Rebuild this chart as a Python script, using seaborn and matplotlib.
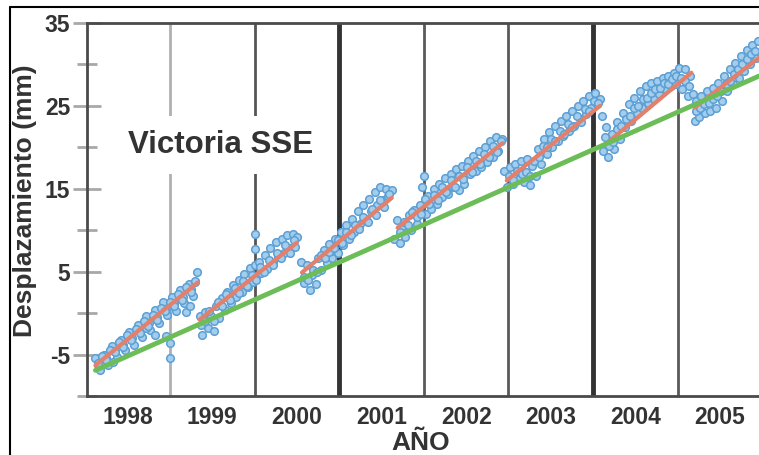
import numpy as np
import pandas as pd
import matplotlib
matplotlib.use("Agg")
import matplotlib.pyplot as plt
from matplotlib.lines import Line2D
import seaborn as sns

# ---------------- data ----------------
yr1 = [1998.12, 1998.17, 1998.22, 1998.27, 1998.32, 1998.37, 1998.42, 1998.47, 1998.52, 1998.57,
       1998.62, 1998.67, 1998.72, 1998.77, 1998.82, 1998.87, 1998.92, 1998.97, 1999.02, 1999.07,
       1999.12, 1999.17, 1999.22, 1999.27, 1999.32,
       1998.15, 1998.25, 1998.35, 1998.45, 1998.55, 1998.65, 1998.75, 1998.85, 1998.95, 1999.05,
       1999.15, 1999.25, 1998.33, 1998.72, 1998.82, 1998.95, 1999.0, 1999.0, 1999.19, 1999.24, 1999.30]
dp1 = [-5.4, -6.9, -5.0, -6.2, -4.0, -5.3, -3.2, -4.5, -2.3, -3.8,
       -1.4, -2.9, -0.3, -2.0, 0.4, -1.2, 1.3, -0.2, 1.9, 0.3,
       2.8, 1.2, 3.5, 2.1, 4.9,
       -6.3, -5.4, -4.6, -3.8, -3.0, -2.2, -1.2, -0.5, 0.5, 1.2,
       2.0, 2.9, -5.9, -1.8, -2.6, -2.8, -5.4, -3.6, 0.1, 0.9, 3.8]
yr1b = [1998.145, 1998.195, 1998.245, 1998.295, 1998.345, 1998.395, 1998.445, 1998.495,
        1998.545, 1998.595, 1998.645, 1998.695, 1998.745, 1998.795, 1998.845, 1998.895,
        1998.945, 1998.995, 1999.045, 1999.095, 1999.145, 1999.195, 1999.245, 1999.295]
dp1b = [-6.0, -5.2, -5.6, -4.4, -4.7, -3.5, -4.1, -2.7, -3.3, -1.9, -2.4, -1.0,
        -1.5, -0.2, -0.8, 0.6, 0.2, 1.4, 0.8, 2.3, 1.6, 3.1, 2.5, 3.9]

yr2 = [1999.35, 1999.38, 1999.42, 1999.45, 1999.48, 1999.52, 1999.55, 1999.58, 1999.62, 1999.65,
       1999.68, 1999.72, 1999.75, 1999.78, 1999.82, 1999.85, 1999.88, 1999.92, 1999.95, 1999.98,
       2000.0, 2000.0, 2000.0, 2000.02, 2000.05, 2000.08, 2000.12, 2000.15, 2000.18, 2000.22,
       2000.25, 2000.28, 2000.32, 2000.35, 2000.38, 2000.42, 2000.45, 2000.48, 2000.50]
dp2 = [-0.4, -2.6, 0.1, -1.8, -0.3, -2.2, 0.9, -0.6, 1.8, 0.4,
       2.6, 1.2, 3.4, 1.9, 4.0, 2.6, 4.7, 3.2, 5.5, 3.8,
       9.6, 7.7, 5.8, 4.4, 6.2, 4.8, 7.0, 5.3, 7.9, 6.0,
       8.6, 6.8, 9.0, 7.2, 9.4, 7.8, 9.6, 8.0, 9.2]
yr2b = [1999.365, 1999.415, 1999.465, 1999.515, 1999.565, 1999.615, 1999.665, 1999.715,
        1999.765, 1999.815, 1999.865, 1999.915, 1999.965, 2000.015, 2000.065, 2000.115,
        2000.165, 2000.215, 2000.265, 2000.315, 2000.365, 2000.415, 2000.465]
dp2b = [-1.4, -0.9, 0.3, -1.0, 1.4, 0.8, 2.3, 1.6, 3.0, 2.4, 3.9, 3.3,
        4.6, 4.0, 5.6, 5.0, 6.4, 5.8, 7.3, 6.6, 8.2, 7.2, 8.8]

yr3 = [2000.55, 2000.58, 2000.62, 2000.65, 2000.68, 2000.72, 2000.75, 2000.78, 2000.82, 2000.85,
       2000.88, 2000.92, 2000.95, 2000.98, 2001.02, 2001.05, 2001.08, 2001.12, 2001.15, 2001.18,
       2001.22, 2001.25, 2001.28, 2001.32, 2001.35, 2001.38, 2001.42, 2001.45, 2001.48, 2001.52,
       2001.55, 2001.58, 2001.62]
dp3 = [6.2, 3.6, 5.8, 2.8, 4.6, 3.5, 6.7, 5.2, 7.6, 6.0,
       8.3, 6.6, 8.9, 7.3, 9.8, 8.2, 10.6, 9.0, 11.4, 9.8,
       12.3, 10.7, 13.0, 11.4, 13.8, 12.3, 14.6, 13.1, 15.2, 13.7,
       15.0, 14.1, 14.8]
yr3b = [2000.585, 2000.635, 2000.685, 2000.735, 2000.785, 2000.835, 2000.885, 2000.935,
        2000.985, 2001.035, 2001.085, 2001.135, 2001.185, 2001.235, 2001.285, 2001.335,
        2001.385, 2001.435, 2001.485, 2001.535, 2001.585]
dp3b = [4.4, 4.0, 5.2, 5.0, 7.0, 6.6, 7.4, 7.8, 8.8, 8.4, 9.8, 9.4,
        10.6, 10.2, 11.6, 11.0, 12.6, 11.8, 13.6, 12.8, 14.4]

yr4 = [2001.65, 2001.68, 2001.72, 2001.75, 2001.78, 2001.82, 2001.85, 2001.88, 2001.92, 2001.95,
       2001.98, 2002.0, 2002.02, 2002.05, 2002.08, 2002.12, 2002.15, 2002.18, 2002.22, 2002.25,
       2002.28, 2002.32, 2002.35, 2002.38, 2002.42, 2002.45, 2002.48, 2002.52, 2002.55, 2002.58,
       2002.62, 2002.65, 2002.68, 2002.72, 2002.75, 2002.78, 2002.82, 2002.85, 2002.88, 2002.92]
dp4 = [9.0, 11.2, 8.4, 10.5, 9.2, 11.8, 10.0, 12.4, 10.8, 13.0,
       15.2, 16.6, 12.0, 14.1, 12.6, 15.0, 13.2, 15.6, 14.0, 16.3,
       14.4, 16.8, 15.2, 17.4, 14.9, 17.8, 15.6, 18.4, 16.8, 19.0,
       17.2, 19.6, 17.6, 20.0, 18.2, 20.8, 18.8, 21.3, 19.6, 21.0]
yr4b = [2001.715, 2001.765, 2001.815, 2001.865, 2001.915, 2001.965, 2002.015, 2002.065,
        2002.115, 2002.165, 2002.215, 2002.265, 2002.315, 2002.365, 2002.415, 2002.465,
        2002.515, 2002.565, 2002.615, 2002.665, 2002.715, 2002.765, 2002.815, 2002.865, 2002.915]
dp4b = [9.8, 11.0, 10.6, 12.2, 11.6, 12.0, 13.8, 13.2, 14.2, 13.6, 15.2, 14.6,
        16.0, 15.2, 16.6, 16.2, 17.6, 17.0, 18.4, 18.0, 19.2, 18.8, 20.2, 19.4, 20.8]

yr5 = [2002.95, 2002.98, 2003.02, 2003.05, 2003.08, 2003.12, 2003.15, 2003.18, 2003.22, 2003.25,
       2003.28, 2003.32, 2003.35, 2003.38, 2003.42, 2003.45, 2003.48, 2003.52, 2003.55, 2003.58,
       2003.62, 2003.65, 2003.68, 2003.72, 2003.75, 2003.78, 2003.82, 2003.85, 2003.88, 2003.92,
       2003.95, 2003.98, 2004.02, 2004.05, 2004.08]
dp5 = [17.2, 15.2, 17.6, 15.6, 18.0, 16.2, 18.4, 15.8, 18.6, 15.4,
       17.8, 16.5, 19.8, 18.0, 21.0, 19.2, 21.8, 20.0, 22.6, 20.8,
       23.2, 21.4, 23.8, 22.0, 24.4, 22.6, 25.0, 23.4, 25.6, 24.0,
       26.2, 24.8, 26.6, 25.2, 25.8]
yr5b = [2003.005, 2003.055, 2003.105, 2003.155, 2003.205, 2003.255, 2003.305, 2003.355,
        2003.405, 2003.455, 2003.505, 2003.555, 2003.605, 2003.655, 2003.705, 2003.755,
        2003.805, 2003.855, 2003.905, 2003.955, 2004.005, 2004.055]
dp5b = [16.6, 16.0, 17.2, 16.8, 17.0, 16.6, 18.4, 18.8, 20.2, 20.0, 21.0, 20.8,
        22.0, 21.6, 22.8, 22.4, 23.8, 23.0, 24.6, 24.4, 25.6, 25.4]

yr6 = [2004.10, 2004.12, 2004.15, 2004.18, 2004.22, 2004.25, 2004.28, 2004.32, 2004.35, 2004.38,
       2004.42, 2004.45, 2004.48, 2004.52, 2004.55, 2004.58, 2004.62, 2004.65, 2004.68, 2004.72,
       2004.75, 2004.78, 2004.82, 2004.85, 2004.88, 2004.92, 2004.95, 2004.98, 2005.02, 2005.05,
       2005.08, 2005.12, 2005.15]
dp6 = [23.8, 19.6, 22.4, 18.8, 21.6, 19.8, 23.0, 21.0, 24.2, 22.4,
       25.2, 23.2, 26.0, 24.2, 26.8, 24.8, 27.4, 25.4, 27.8, 25.8,
       28.0, 26.4, 28.4, 27.0, 28.6, 27.4, 29.0, 27.6, 29.6, 27.0,
       29.4, 26.2, 28.6]
yr6b = [2004.135, 2004.185, 2004.235, 2004.285, 2004.335, 2004.385, 2004.435, 2004.485,
        2004.535, 2004.585, 2004.635, 2004.685, 2004.735, 2004.785, 2004.835, 2004.885,
        2004.935, 2004.985, 2005.035, 2005.085, 2005.135]
dp6b = [21.2, 20.2, 20.6, 22.2, 22.6, 23.4, 23.8, 24.8, 25.0, 25.8, 26.0, 26.6,
        27.0, 27.2, 27.8, 27.6, 28.2, 28.6, 28.4, 28.0, 27.4]

yr7 = [2005.18, 2005.20, 2005.22, 2005.25, 2005.28, 2005.32, 2005.35, 2005.38, 2005.42, 2005.45,
       2005.48, 2005.52, 2005.55, 2005.58, 2005.62, 2005.65, 2005.68, 2005.72, 2005.75, 2005.78,
       2005.82, 2005.85, 2005.88, 2005.92, 2005.95]
dp7 = [26.4, 23.2, 25.6, 23.6, 26.2, 24.2, 26.8, 24.4, 27.2, 24.8,
       27.8, 25.6, 28.6, 26.8, 29.4, 27.6, 30.2, 28.4, 31.0, 29.2,
       31.8, 30.0, 32.4, 30.8, 32.8]
yr7b = [2005.215, 2005.265, 2005.315, 2005.365, 2005.415, 2005.465, 2005.515, 2005.565,
        2005.615, 2005.665, 2005.715, 2005.765, 2005.815, 2005.865, 2005.915]
dp7b = [24.4, 24.8, 25.2, 25.4, 25.8, 26.2, 26.8, 27.6, 28.0, 28.8, 29.4, 30.0,
        30.6, 31.2, 31.6]

# inter-event fits (red segments): start/end years and displacements
fit_seg = [1, 1, 2, 2, 3, 3, 4, 4, 5, 5, 6, 6, 7, 7]
fit_yr = [1998.12, 1999.33, 1999.35, 2000.50, 2000.56, 2001.62, 2001.69, 2002.93,
          2002.98, 2004.08, 2004.14, 2005.16, 2005.20, 2005.96]
fit_dp = [-6.3, 3.7, -0.8, 8.5, 4.9, 13.9, 10.3, 20.5,
          16.0, 25.0, 20.3, 29.0, 24.8, 30.8]

# long-term trend (green line)
trend_yr = [1998.12, 2005.96]
trend_dp = [-6.9, 28.6]

# axes text
year_labels = ["1998", "1999", "2000", "2001", "2002", "2003", "2004", "2005"]
year_label_pos = [1998.5, 1999.5, 2000.5, 2001.5, 2002.5, 2003.5, 2004.5, 2005.5]
yticks_major = [-5, 5, 15, 25, 35]
yticks_minor = [-10, 0, 10, 20, 30]
year_lines = [1999, 2000, 2001, 2002, 2003, 2004, 2005]

# ---------------- figure ----------------
sns.set_style("white")
plt.rcParams["font.family"] = ["Liberation Sans", "DejaVu Sans"]
plt.rcParams["font.weight"] = "bold"

fig = plt.figure(figsize=(7.59, 4.55), dpi=100)
ax = fig.add_axes([87 / 759, 1 - 396 / 455, 1 - 87 / 759, (396 - 23) / 455])

# vertical year lines
line_styles = {1999: ("#b0b0b0", 2.0), 2000: ("#555555", 2.0), 2001: ("#333333", 3.5),
               2002: ("#5a5a5a", 2.0), 2003: ("#5a5a5a", 2.0), 2004: ("#333333", 3.5),
               2005: ("#5a5a5a", 2.0)}
for y in year_lines:
    c, w = line_styles[y]
    ax.axvline(y, color=c, lw=w, zorder=1)

gps = pd.DataFrame({
    "year": yr1 + yr1b + yr2 + yr2b + yr3 + yr3b + yr4 + yr4b + yr5 + yr5b + yr6 + yr6b + yr7 + yr7b,
    "disp": dp1 + dp1b + dp2 + dp2b + dp3 + dp3b + dp4 + dp4b + dp5 + dp5b + dp6 + dp6b + dp7 + dp7b,
})
sns.scatterplot(data=gps, x="year", y="disp", ax=ax, s=30, marker="o",
                facecolor="#a3cdec", edgecolor="#5c9fd5", linewidth=1.1, zorder=3)

fits = pd.DataFrame({"seg": fit_seg, "year": fit_yr, "disp": fit_dp})
sns.lineplot(data=fits, x="year", y="disp", units="seg", estimator=None, ax=ax,
             color="#e2806c", lw=3.0, zorder=4)

trend = pd.DataFrame({"year": trend_yr, "disp": trend_dp})
sns.lineplot(data=trend, x="year", y="disp", ax=ax, color="#6cbd57", lw=3.5, zorder=5)

ax.set_xlim(1998.02, 2005.96)
ax.set_ylim(-10, 35)

ax.set_xticks(year_label_pos)
ax.set_xticklabels(year_labels)
ax.set_yticks(yticks_major)
ax.set_yticks(yticks_minor, minor=True)
ax.set_yticklabels([str(v) for v in yticks_major])
ax.tick_params(axis="x", length=0, pad=7, labelsize=16.5, labelcolor="#333333")
ax.tick_params(axis="y", which="major", direction="inout", length=20, width=2,
               color="#a8a8a8", labelsize=16.5, labelcolor="#333333", pad=2, left=True)
ax.tick_params(axis="y", which="minor", direction="inout", length=14, width=2,
               color="#a8a8a8", left=True)
for lab in ax.get_xticklabels() + ax.get_yticklabels():
    lab.set_fontweight("bold")

for side in ["left", "bottom", "top"]:
    ax.spines[side].set_visible(True)
    ax.spines[side].set_color("#4a4a4a")
    ax.spines[side].set_linewidth(2)
ax.spines["right"].set_visible(False)

ax.set_xlabel("AÑO", fontsize=19, fontweight="bold", color="#333333")
ax.xaxis.set_label_coords((421 - 87) / 672, (396 - 431) / 373)
ax.set_ylabel("Desplazamiento (mm)", fontsize=19, fontweight="bold", color="#333333")
ax.yaxis.set_label_coords((37 - 87) / 672, (396 - 201) / 373)

ax.text(1999.6, 20.3, "Victoria SSE", fontsize=22.5, fontweight="bold", color="#333333",
        ha="center", va="center", zorder=6,
        bbox=dict(boxstyle="square,pad=0.45", facecolor="white", edgecolor="none"))

# outer frame lines of the original figure
fig.add_artist(Line2D([10 / 759, 1.0], [1 - 7 / 455, 1 - 7 / 455], color="black", lw=1.5))
fig.add_artist(Line2D([10 / 759, 10 / 759], [0.0, 1 - 7 / 455], color="black", lw=1.5))

fig.savefig("out.png", dpi=100)
